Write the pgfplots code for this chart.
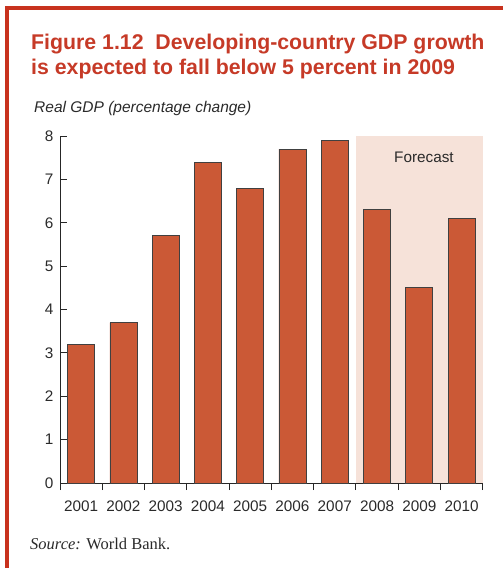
\documentclass[border=0pt]{standalone}
\usepackage{fontspec}
\setmainfont{Liberation Sans}
\newfontfamily\serifont{Liberation Serif}
\usepackage{pgfplots}
\pgfplotsset{compat=1.18}
\definecolor{framec}{HTML}{C8321E}
\definecolor{titlered}{HTML}{C63A27}
\definecolor{barc}{HTML}{CB5936}
\definecolor{shadec}{HTML}{F6E2D9}
\definecolor{txt}{HTML}{2A2A2A}
\begin{document}
\begin{tikzpicture}
\useasboundingbox (0pt,0pt) rectangle (503pt,-568pt);
\draw[framec, line width=4pt] (7pt,-568pt) -- (7pt,-7.5pt) -- (503pt,-7.5pt);
\node[anchor=base west, inner sep=0, text=titlered, font=\fontsize{21.3}{25}\selectfont\bfseries] at (31pt,-49pt) {Figure 1.12\ \ Developing-country GDP growth};
\node[anchor=base west, inner sep=0, text=titlered, font=\fontsize{21.3}{25}\selectfont\bfseries] at (31pt,-74pt) {is expected to fall below 5 percent in 2009};
\node[anchor=base west, inner sep=0, text=txt, font=\fontsize{15.5}{18}\selectfont\itshape] at (34pt,-112.7pt) {Real GDP (percentage change)};
\begin{axis}[
  at={(60pt,-483pt)}, anchor=south west,
  scale only axis, width=422.7pt, height=347pt,
  xmin=-0.5, xmax=9.5, ymin=0, ymax=8,
  axis lines*=left,
  axis line style={line width=0.9pt, black!85},
  tick align=outside,
  major tick length=7pt,
  tick style={line width=0.9pt, black!85},
  y tick style={xshift=7pt},
  xtick={-0.5,0.5,1.5,2.5,3.5,4.5,5.5,6.5,7.5,8.5,9.5},
  xticklabels={2001,2002,2003,2004,2005,2006,2007,2008,2009,2010,{}},
  x tick label style={xshift=21.135pt, yshift=-7pt},
  y tick label style={xshift=4pt},
  ytick={0,1,2,3,4,5,6,7,8},
  /pgf/number format/assume math mode=true,
  tick label style={font=\fontsize{15.3}{18}\selectfont, text=txt},
  clip=false,
]
\fill[shadec] (axis cs:6.5,0) rectangle (axis cs:9.5,8);
\node[font=\fontsize{15.3}{18}\selectfont, text=txt] at (axis cs:8.11,7.5) {Forecast};
\addplot[ybar, bar width=27pt, fill=barc, draw=black!75, line width=0.7pt] coordinates {
  (0,3.2) (1,3.7) (2,5.7) (3,7.4) (4,6.8) (5,7.7) (6,7.9) (7,6.3) (8,4.5) (9,6.1)
};
\end{axis}
\node[anchor=base west, inner sep=0, text=txt, font=\serifont\fontsize{16.5}{20}\selectfont] at (30pt,-549pt) {\textit{Source:} World Bank.};
\end{tikzpicture}
\end{document}
